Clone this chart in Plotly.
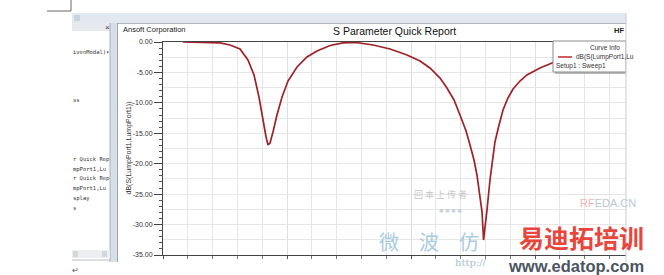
import plotly.graph_objects as go

# ---------------- data ----------------
freq_ghz = [1.161, 1.339, 1.460, 1.540, 1.621, 1.685, 1.734, 1.774, 1.806, 1.831,
            1.847, 1.863, 1.887, 1.919, 1.960, 2.008, 2.081, 2.161, 2.242, 2.347,
            2.452, 2.556, 2.694, 2.831, 2.968, 3.073, 3.153, 3.234, 3.290, 3.347,
            3.395, 3.444, 3.476, 3.508, 3.532, 3.556, 3.573, 3.585, 3.597, 3.613,
            3.637, 3.661, 3.677, 3.710, 3.742, 3.782, 3.823, 3.879, 3.935, 4.040,
            4.137, 4.282, 4.444, 4.605, 4.734]
s11_db = [0.00, -0.05, -0.16, -0.49, -1.15, -2.96, -5.42, -9.04, -12.82, -15.61,
          -16.92, -16.60, -14.79, -11.99, -9.04, -6.41, -4.11, -2.46, -1.48, -0.58,
          -0.16, -0.08, -0.49, -1.15, -2.14, -3.12, -4.27, -5.92, -7.56, -9.53,
          -11.99, -14.62, -16.92, -19.39, -21.85, -25.14, -27.94, -32.54, -30.56, -27.60,
          -22.68, -18.90, -16.43, -13.64, -11.17, -9.20, -7.72, -6.41, -5.42, -4.27,
          -3.45, -2.46, -1.64, -0.99, -0.66]
y_tick_vals = [0, -5, -10, -15, -20, -25, -30, -35]
y_tick_text = ["0.00", "-5.00", "-10.00", "-15.00", "-20.00", "-25.00", "-30.00", "-35.00"]
x_tick_vals = [1, 2, 3, 4, 5]
x_tick_text = ["1.00", "2.00", "3.00", "4.00", "5.00"]
trace_name = "dB(S(LumpPort1,LumpPort1))"
panel_lines = [("ivenModal)\u25be", 52), ("ss", 100), ("r Quick Rep", 159),
               ("mpPort1,Lu", 169), ("r Quick Rep", 178), ("mpPort1,Lu", 188),
               ("splay", 198), ("s", 208)]

# ---------------- geometry ----------------
W, H = 664, 275
L, T, PR, PB = 163, 42, 664, 255
X_MIN, X_MAX = 1.0, 1.0 + (PR - L) / 124.0


def px(x):
    return (x - L) / (PR - L)


def py(y):
    return (PB - y) / (PB - T)


shapes = []


def rect(x0, y0, x1, y1, fill, line=None, lw=1, layer="above"):
    shapes.append(dict(type="rect", xref="paper", yref="paper",
                       x0=px(x0), x1=px(x1), y0=py(y1), y1=py(y0),
                       fillcolor=fill, layer=layer,
                       line=dict(width=lw if line else 0, color=line or fill)))


def seg(x0, y0, x1, y1, color, lw=1):
    shapes.append(dict(type="line", xref="paper", yref="paper",
                       x0=px(x0), x1=px(x1), y0=py(y0), y1=py(y1),
                       layer="above", line=dict(color=color, width=lw)))


annotations = []


def text(x, y, s, size=7, color="#222", xa="left", ya="middle", family="Liberation Sans, Arial",
         angle=0, opacity=1.0):
    annotations.append(dict(x=px(x), y=py(y), xref="paper", yref="paper", text=s, showarrow=False,
                            xanchor=xa, yanchor=ya, textangle=angle, opacity=opacity, borderpad=0,
                            font=dict(size=size, color=color, family=family)))


fig = go.Figure()
fig.add_trace(go.Scatter(x=freq_ghz, y=s11_db, mode="lines", name=trace_name,
                         line=dict(color="#9e2227", width=1.7), hoverinfo="skip"))
fig.add_trace(go.Scatter(x=[], y=[], yaxis="y2", showlegend=False))

# ---------------- chrome ----------------
# page crop marks
seg(47, 11, 71, 11, "#666")
seg(71, 0, 71, 11, "#666")
seg(650, 0, 650, 11, "#888")
# application top bar
rect(72, 13, 626, 23, "#e2e8ef")
rect(74, 15, 80, 21, "#c9d3dd")
# left panel
rect(72, 23, 110, 31, "#e6eaee")
rect(110, 23, 118, 262, "#d6dee7")
seg(110, 23, 110, 262, "#a9b2bc")
seg(117.5, 23, 117.5, 262, "#9da6b0")
rect(72, 250, 110, 258, "#eceef0")
rect(73, 251, 78, 257, "#d4d8dc")
rect(102, 251, 107, 257, "#d4d8dc")
seg(72, 260, 110, 260, "#b8bec4")
seg(118, 23.5, 626, 23.5, "#b0b6bc")
# legend box (Curve Info)
rect(555, 43, 628, 74, "#b9b9b9")
rect(553, 41, 626, 72, "#ffffff", line="#8a8a8a")
seg(558, 57, 572, 57, "#c0282c", 1.5)
# covers: right of window and below window
rect(626, 0, 664, 275, "#ffffff")
seg(626, 13, 626, 262, "#c8ccd0")
rect(0, 262, 664, 275, "#ffffff")

# ---------------- texts ----------------
text(107, 27, "\u00d7", size=8, color="#333", xa="center")
for s, y in panel_lines:
    text(72, y, s, size=5.5, color="#333", family="DejaVu Sans Mono")
text(122, 29, "Ansoft Corporation", size=7.5, color="#222")
text(394, 31, "S Parameter Quick Report", size=10.5, color="#111", xa="center")
text(625, 30, "<b>HF</b>", size=7.5, color="#222", xa="right")
text(128, 148.5, trace_name, size=7, color="#333", xa="center", angle=-90)
text(621, 47, "Curve Info", size=6.5, color="#333", xa="right")
text(575, 57, "dB(S(LumpPort1,Lu", size=6.5, color="#333")
text(555, 66, "Setup1 : Sweep1", size=6.5, color="#333")
text(75, 270, "\u21b5", size=8, color="#555", xa="center")

# watermark
text(413, 194, "\u56de \u672c \u4e0a \u4f20 \u8005", size=9, color="#c8c8c8", family="Noto Sans CJK SC")
text(450, 210, "\u25a0 \u25a0 \u25a0 \u25a0", size=7, color="#c8d4dc", xa="center")
text(608, 203, "<span style='color:#f3b4b4'>RF</span>EDA.CN", size=11, color="#b8c8d8", xa="center")
text(378, 241, "\u5fae\u3000\u6ce2\u3000\u4eff", size=20, color="#9fc8de", family="Noto Sans CJK SC",
     opacity=0.9)
text(471, 262, "http://", size=10, color="#a9c0d0", xa="center", family="DejaVu Serif")
text(581, 237, "<b>\u6613\u8fea\u62d3\u57f9\u8bad</b>", size=25, color="#e8453c",
     family="Noto Sans CJK SC", xa="center")
text(576, 265.5, "<b>www.edatop.com</b>", size=16.5, color="#4a5562", xa="center")

axis_font = dict(size=7, color="#333", family="Liberation Sans, Arial")
fig.update_layout(
    template="none",
    width=W, height=H,
    margin=dict(l=L, r=W - PR, t=T, b=H - PB, autoexpand=False),
    paper_bgcolor="white", plot_bgcolor="white",
    showlegend=False,
    shapes=shapes, annotations=annotations,
    xaxis=dict(range=[X_MIN, X_MAX], tickmode="array", tickvals=x_tick_vals, ticktext=x_tick_text,
               ticks="outside", ticklen=3, tickcolor="#555", tickfont=axis_font,
               showgrid=True, gridcolor="#dedede", gridwidth=1,
               minor=dict(dtick=0.2, tick0=1.0, ticks="outside", ticklen=3, tickcolor="#777",
                          showgrid=True, gridcolor="#e6e6e6"),
               showline=True, linecolor="#444", linewidth=1, mirror=True,
               zeroline=False, automargin=False, fixedrange=True),
    yaxis=dict(range=[-35, 0], tickmode="array", tickvals=y_tick_vals, ticktext=y_tick_text,
               ticks="outside", ticklen=8, tickcolor="#444", tickfont=axis_font,
               showgrid=True, gridcolor="#dedede", gridwidth=1,
               minor=dict(dtick=1, tick0=0, ticks="outside", ticklen=3, tickcolor="#555",
                          showgrid=False),
               showline=True, linecolor="#444", linewidth=1,
               zeroline=False, automargin=False, fixedrange=True),
    yaxis2=dict(range=[-35, 0], overlaying="y", anchor="x", side="left",
                tickmode="linear", tick0=0, dtick=2.5, showgrid=True, gridcolor="#e6e6e6",
                showticklabels=False, ticks="", showline=False, zeroline=False,
                automargin=False, fixedrange=True),
)

fig.write_html("out.html")
